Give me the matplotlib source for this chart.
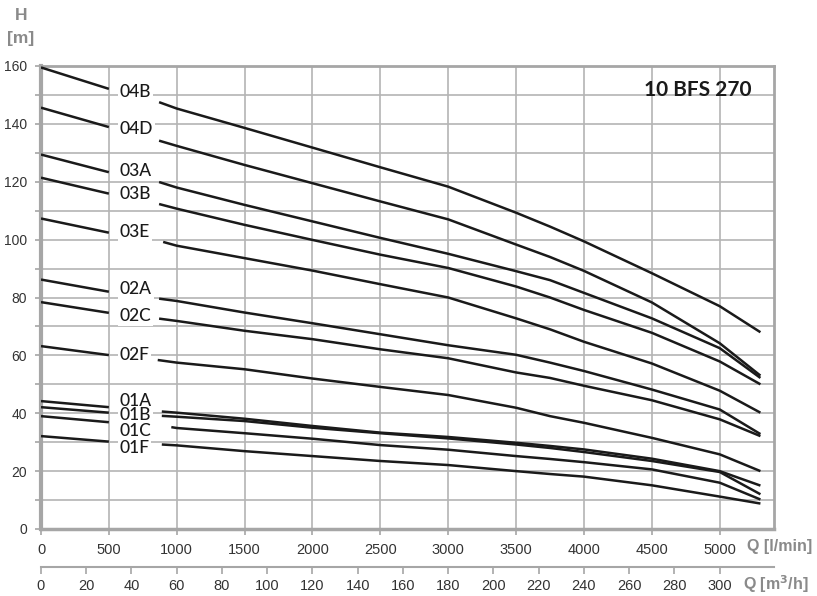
import matplotlib
matplotlib.use("Agg")
import matplotlib.pyplot as plt
from matplotlib.ticker import MultipleLocator, FixedLocator

# pump curves 10 BFS 270, head H [m] vs flow Q [l/min]
names = ["04B", "04D", "03A", "03B", "03E", "02A", "02C", "02F", "01A", "01B", "01C", "01F"]

q_left = [0, 500]
h_left = [[159.5, 152.1], [145.6, 138.9], [129.4, 123.3], [121.4, 115.9],
          [107.3, 102.4], [86.2, 82.0], [78.4, 74.7], [63.2, 60.1],
          [44.2, 42.1], [42.1, 40.2], [39.0, 36.9], [32.1, 30.2]]

# where each curve starts again after its label
q_resume = [870, 870, 870, 870, 900, 870, 870, 860, 890, 890, 960, 890]
h_resume = [147.5, 134.2, 119.9, 112.3, 99.2, 79.6, 72.7, 58.4, 40.6, 39.1, 35.2, 29.2]

q_right = [1000, 1500, 2000, 2500, 3000, 3500, 3750, 4000, 4500, 5000, 5300]
h_04B = [145.3, 138.6, 131.8, 125.0, 118.3, 109.3, 104.5, 99.4, 88.4, 77.0, 68.0]
h_04D = [132.4, 125.8, 119.5, 113.2, 107.0, 98.3, 94.0, 89.2, 78.3, 64.2, 53.0]
h_03A = [118.0, 112.0, 106.3, 100.6, 95.1, 89.1, 86.0, 81.6, 72.8, 62.5, 52.2]
h_03B = [110.7, 105.1, 99.9, 94.8, 90.2, 83.8, 80.0, 75.7, 67.8, 57.9, 50.0]
h_03E = [97.9, 93.6, 89.3, 84.6, 80.0, 72.8, 69.0, 64.7, 57.2, 47.8, 40.2]
h_02A = [78.8, 74.8, 71.1, 67.3, 63.5, 60.2, 57.5, 54.6, 48.2, 41.3, 32.8]
h_02C = [71.9, 68.5, 65.6, 62.1, 59.0, 54.1, 52.2, 49.5, 44.5, 37.9, 32.1]
h_02F = [57.5, 55.2, 52.0, 49.1, 46.3, 41.9, 39.0, 36.7, 31.5, 25.8, 20.0]
h_01A = [40.2, 38.1, 35.6, 33.3, 31.8, 29.8, 28.7, 27.5, 24.3, 20.0, 15.0]
h_01B = [38.8, 37.3, 35.0, 33.1, 31.3, 29.2, 28.0, 26.6, 23.5, 19.7, 12.0]
h_01C = [34.9, 33.1, 31.2, 29.0, 27.4, 25.2, 24.2, 23.1, 20.6, 16.0, 10.2]
h_01F = [28.9, 26.9, 25.2, 23.5, 22.1, 20.0, 19.0, 18.1, 15.1, 11.2, 8.8]
h_right = [h_04B, h_04D, h_03A, h_03B, h_03E, h_02A, h_02C, h_02F,
           h_01A, h_01B, h_01C, h_01F]

label_q = 580
label_h = [150.9, 138.3, 123.6, 115.9, 102.6, 82.8, 73.6, 60.0, 44.4, 39.4, 33.8, 28.1]

m3h_ticks = list(range(0, 301, 20))

grid_col = "#b4b4b4"
frame_col = "#a6a6a6"
tick_font = "Liberation Sans"

fig = plt.figure(figsize=(8.17, 5.96), dpi=100)
ax = fig.add_axes([41 / 817, 1 - 529 / 596, (774 - 41) / 817, (529 - 66) / 596])

for i, name in enumerate(names):
    ax.plot(q_left, h_left[i], color="#1a1a1a", lw=1.8, solid_capstyle="butt", zorder=3)
    ax.plot([q_resume[i]] + q_right, [h_resume[i]] + h_right[i],
            color="#1a1a1a", lw=1.8, solid_capstyle="butt", zorder=3)
    # white patch behind the label (hides grid), text drawn on top separately
    ax.text(label_q, label_h[i], name, fontsize=12.5, family="Lato", weight="bold",
            color="white", ha="left", va="center", zorder=4,
            bbox=dict(boxstyle="square,pad=0.1", fc="white", ec="none"))
    ax.text(label_q, label_h[i], name, fontsize=12.5, family="Lato", weight="medium",
            color="#1a1a1a", ha="left", va="center", zorder=5)

ax.text(5232, 151.6, "10 BFS 270", fontsize=15, family="Lato", weight="bold",
        color="#1a1a1a", ha="right", va="center", zorder=5)

ax.set_xlim(0, 5400)
ax.set_ylim(0, 160)
ax.xaxis.set_major_locator(MultipleLocator(500))
ax.yaxis.set_major_locator(MultipleLocator(20))
ax.yaxis.set_minor_locator(MultipleLocator(10))
ax.grid(True, which="both", color=grid_col, lw=1.2, zorder=0)
ax.set_axisbelow(True)

for s in ax.spines.values():
    s.set_color(frame_col)
    s.set_linewidth(2)
ax.spines["left"].set_linewidth(3)
ax.spines["bottom"].set_linewidth(2.5)

ax.tick_params(which="both", color=frame_col, length=4, width=1.2)
ax.tick_params(axis="x", pad=6)
ax.tick_params(axis="y", pad=6)
for lab in ax.get_xticklabels():
    lab.set_family(tick_font)
    lab.set_fontsize(10.5)
    lab.set_color("#333333")
for lab in ax.get_yticklabels():
    lab.set_family(tick_font)
    lab.set_fontsize(10)
    lab.set_color("#333333")

# second flow axis in m3/h
sec = ax.secondary_xaxis(-0.082, functions=(lambda q: q * 0.06, lambda m: m / 0.06))
sec.xaxis.set_major_locator(FixedLocator(m3h_ticks))
sec.spines["bottom"].set_color(frame_col)
sec.spines["bottom"].set_linewidth(1.5)
sec.tick_params(color=frame_col, length=5, width=1.2, pad=4)
for lab in sec.get_xticklabels():
    lab.set_family(tick_font)
    lab.set_fontsize(10.5)
    lab.set_color("#333333")

lab_col = "#8a8a8a"
lab_font = "Liberation Sans"
fig.text(21 / 817, 1 - 15 / 596, "H", fontsize=12.5, family=lab_font, weight="bold",
         color=lab_col, ha="center", va="center")
fig.text(21 / 817, 1 - 38 / 596, "[m]", fontsize=12.5, family=lab_font, weight="bold",
         color=lab_col, ha="center", va="center")
fig.text(747 / 817, 1 - 547 / 596, "Q [l/min]", fontsize=11.5, family=lab_font,
         weight="bold", color=lab_col, ha="left", va="center")
fig.text(743 / 817, 1 - 584 / 596, r"Q [m$^\mathbf{3}$/h]", fontsize=11.5,
         family=lab_font, weight="bold", color=lab_col, ha="left", va="center")

fig.savefig("out.png", dpi=100)
